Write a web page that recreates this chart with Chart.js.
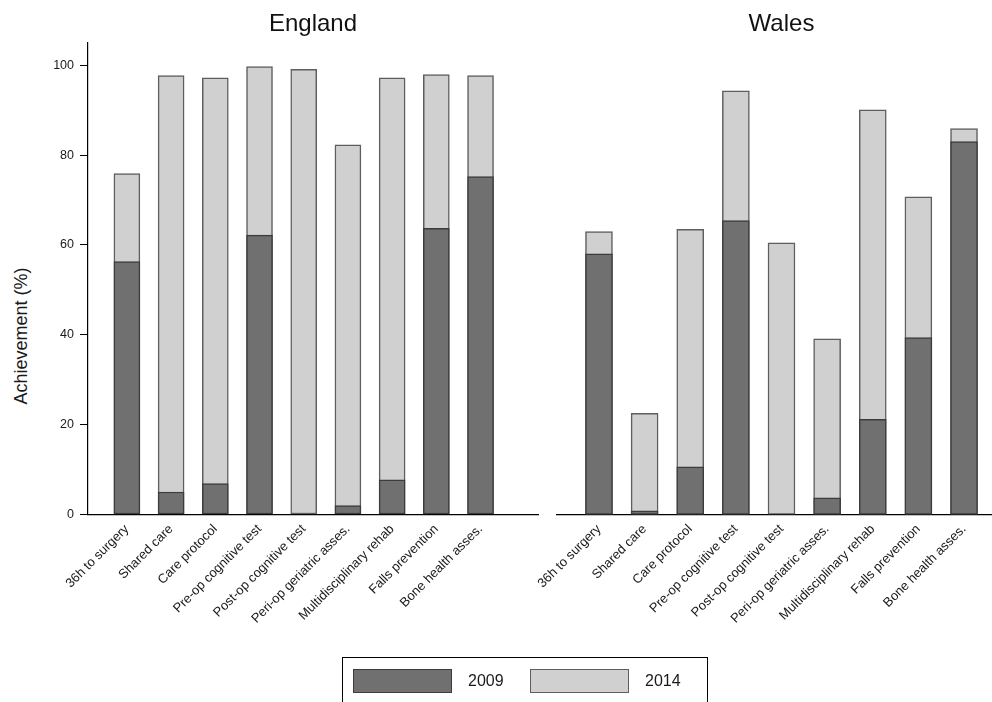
<!DOCTYPE html>
<html lang="en">
  <head>
    <meta charset="UTF-8">
    <title>Hip fracture care indicators, England and Wales</title>
    <script src="https://cdn.jsdelivr.net/npm/chart.js"></script>
    <style>
      body {
        margin: 0;
        width: 992px;
        height: 702px;
        overflow: hidden;
        background: #fff;
        font-family: "Liberation Sans", Arial, sans-serif;
        color: #1a1a1a;
        position: relative
      }

      .panel {
        position: absolute;
        top: 0;
        height: 702px
      }

      #england-box {
        left: 0;
        width: 540px
      }

      #wales-box {
        left: 520px;
        width: 486px
      }

      #y-title {
        position: absolute;
        left: 21px;
        top: 336px;
        transform: translate(-50%, -50%) rotate(-90deg);
        white-space: nowrap;
        font-size: 18px
      }

      #legend {
        position: absolute;
        left: 342px;
        top: 657px;
        width: 366px;
        height: 60px;
        border: 1px solid #000;
        box-sizing: border-box;
        display: flex;
        padding: 11px 0 0 10px
      }

      #legend .entry {
        display: flex;
        align-items: center;
        width: 191px;
        height: 24px
      }

      #legend .swatch {
        width: 99px;
        height: 24px;
        box-sizing: border-box;
        border: 1.5px solid;
        margin-right: 16px
      }

      #legend .label {
        font-size: 16px
      }
    </style>
  </head>
  <body>
    <div id="y-title">Achievement (%)</div>
    <div class="panel" id="england-box"><canvas id="england"></canvas></div>
    <div class="panel" id="wales-box"><canvas id="wales"></canvas></div>
    <div id="legend"></div>
    <script>
      const indicators = ['36h to surgery', 'Shared care', 'Care protocol', 'Pre-op cognitive test',
        'Post-op cognitive test', 'Peri-op geriatric asses.', 'Multidisciplinary rehab',
        'Falls prevention', 'Bone health asses.'];
      const years = ['2009', '2014'];

      const england2009 = [56.3, 5.0, 6.9, 62.2, 0, 2.0, 7.7, 63.7, 75.2];
      const england2014 = [75.9, 97.7, 97.2, 99.7, 99.1, 82.3, 97.2, 97.9, 97.7];
      const wales2009 = [58.0, 0.8, 10.6, 65.4, 0, 3.7, 21.2, 39.4, 83.0];
      const wales2014 = [63.0, 22.5, 63.5, 94.3, 60.5, 39.1, 90.1, 70.7, 85.9];

      const yTicks = [0, 20, 40, 60, 80, 100];

      const yearFill = ['#707070', '#d0d0d0'];
      const yearEdge = ['#3c3c3c', '#5e5e5e'];

      Chart.defaults.font.family = '"Liberation Sans", Arial, sans-serif';
      Chart.defaults.color = '#1a1a1a';

      // bars sit on a numeric axis, one slot per indicator
      function toPoints(values) {
        return values.map((v, i) => ({ x: i + 1, y: v }));
      }

      function yearDataset(k, values, width) {
        return {
          label: years[k],
          data: toPoints(values),
          backgroundColor: yearFill[k],
          borderColor: yearEdge[k],
          borderWidth: 1.5,
          borderSkipped: false,
          barThickness: width,
          grouped: false
        };
      }

      function makePanel(id, title, v2009, v2014, cfg) {
        return new Chart(document.getElementById(id), {
          type: 'bar',
          data: {
            // 2009 first so it is painted over the 2014 bar
            datasets: [yearDataset(0, v2009, cfg.barWidth), yearDataset(1, v2014, cfg.barWidth)]
          },
          options: {
            responsive: true,
            maintainAspectRatio: false,
            animation: false,
            layout: { padding: cfg.padding },
            plugins: {
              legend: { display: false },
              tooltip: { enabled: false },
              title: {
                display: true,
                text: title,
                fullSize: false,
                color: '#111',
                font: { size: 24, weight: 'normal' },
                padding: { top: 10, bottom: 4 }
              }
            },
            scales: {
              x: {
                type: 'linear',
                offset: false,
                min: cfg.xMin,
                max: cfg.xMax,
                afterBuildTicks: s => { s.ticks = indicators.map((_, i) => ({ value: i + 1 })); },
                afterFit: s => { s.height = 187.5; },
                grid: { display: false, drawTicks: false, offset: false },
                border: { color: '#000', width: 1.2 },
                ticks: {
                  autoSkip: false,
                  minRotation: 45,
                  maxRotation: 45,
                  padding: 7,
                  font: { size: 13 },
                  callback: v => indicators[v - 1]
                }
              },
              y: {
                display: cfg.showY,
                min: 0,
                max: 105,
                afterBuildTicks: s => { s.ticks = yTicks.map(v => ({ value: v })); },
                // only the left panel carries a visible value axis
                afterFit: s => { if (cfg.showY) s.width = 88; },
                grid: { drawOnChartArea: false, tickLength: 8, color: '#000' },
                border: { color: '#000', width: 1.2 },
                ticks: { padding: 6, font: { size: 12.5 } }
              }
            }
          }
        });
      }

      const englandChart = makePanel('england', 'England', england2009, england2014, {
        barWidth: 26, xMin: 0.12, xMax: 10.3, showY: true,
        padding: { left: 0, right: 2, top: 0, bottom: 0 }
      });
      makePanel('wales', 'Wales', wales2009, wales2014, {
        barWidth: 27, xMin: 0.08, xMax: 9.92, showY: false,
        padding: { left: 37, right: 0, top: 0, bottom: 0 }
      });

      // shared legend under both panels
      const legendBox = document.getElementById('legend');
      englandChart.data.datasets.forEach(ds => {
        const entry = document.createElement('div');
        entry.className = 'entry';
        const swatch = document.createElement('span');
        swatch.className = 'swatch';
        swatch.style.background = ds.backgroundColor;
        swatch.style.borderColor = ds.borderColor;
        const label = document.createElement('span');
        label.className = 'label';
        label.textContent = ds.label;
        entry.appendChild(swatch);
        entry.appendChild(label);
        legendBox.appendChild(entry);
      });
    </script>
  </body>
</html>
